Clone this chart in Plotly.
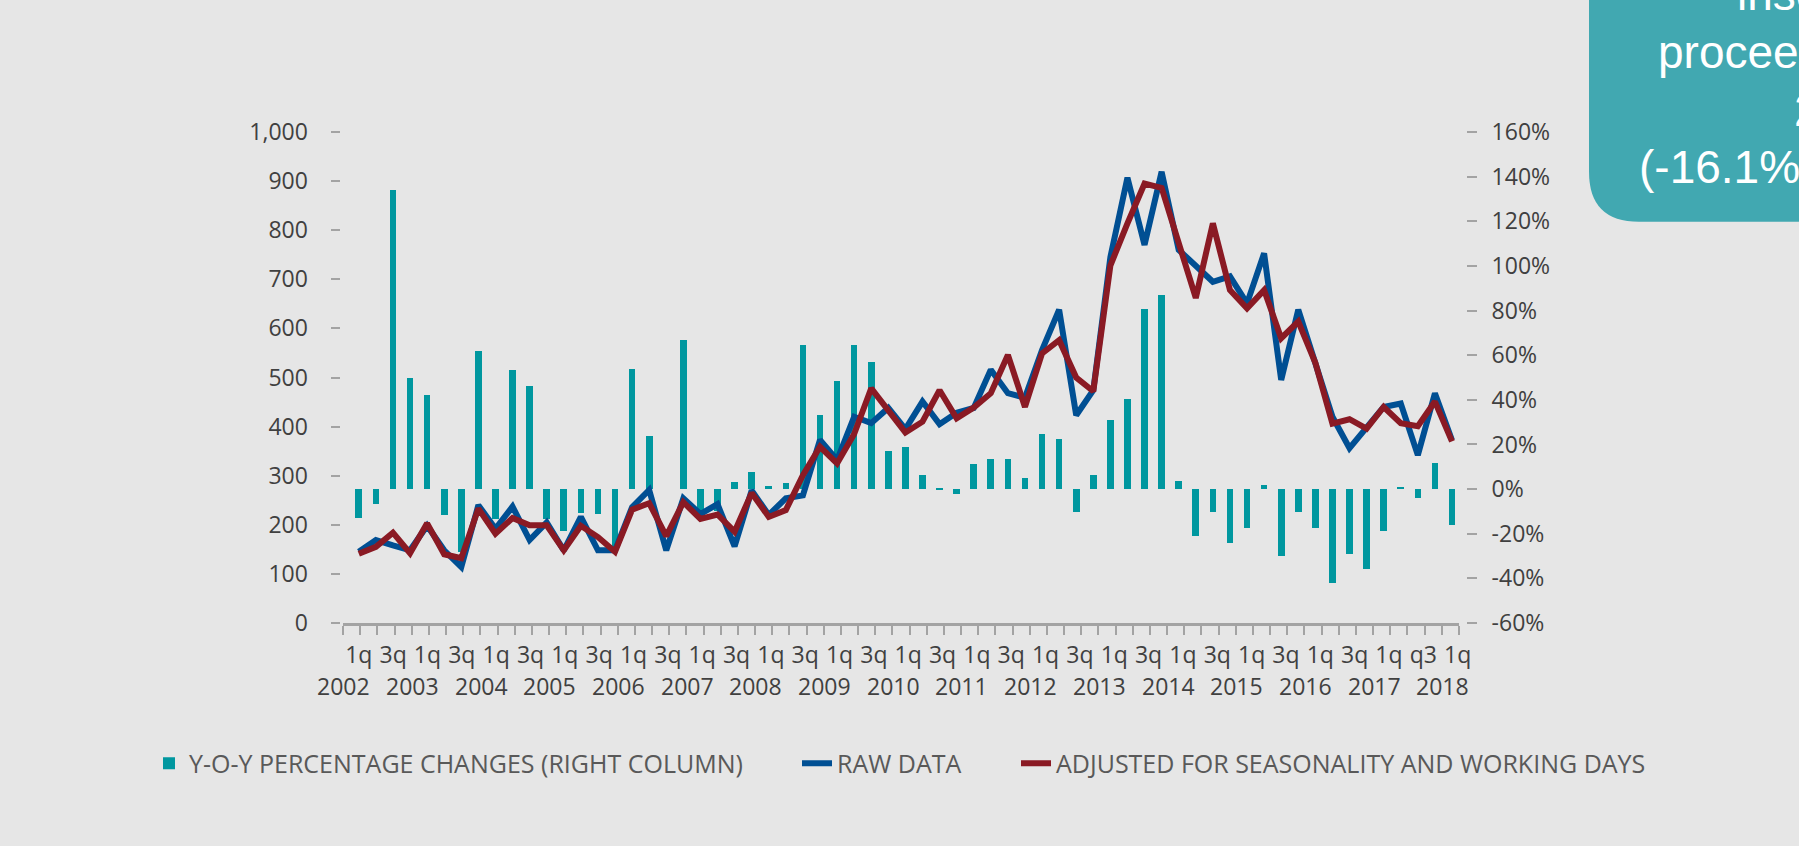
import plotly.graph_objects as go

# ---------------- data ----------------
raw_data = [145, 169, 158, 148, 198, 148, 114, 240, 192, 237,
            169, 205, 148, 216, 148, 148, 236, 271, 148, 254,
            222, 242, 156, 270, 220, 254, 260, 373, 332, 420,
            407, 438, 395, 451, 405, 428, 438, 516, 468, 459,
            556, 638, 423, 474, 745, 907, 770, 919, 760, 726,
            695, 706, 651, 753, 495, 638, 529, 420, 356, 400,
            440, 447, 342, 468, 372]

adjusted = [141, 155, 184, 142, 203, 140, 132, 233, 182, 214,
            199, 199, 148, 198, 175, 145, 231, 244, 177, 246,
            212, 221, 186, 265, 216, 230, 301, 359, 325, 385,
            478, 434, 388, 410, 474, 417, 439, 468, 546, 440,
            549, 576, 500, 472, 728, 814, 895, 886, 770, 662,
            814, 678, 641, 678, 580, 614, 530, 406, 415, 396,
            440, 407, 401, 451, 370]

yoy_pct = [-13.0, -6.5, 134.0, 50.0, 42.0, -11.5, -28.0, 61.7, -13.2, 53.5,
           46.0, -13.2, -18.8, -10.5, -11.3, -26.0, 53.9, 23.7, 0.0, 67.0,
           -10.0, -10.0, 3.0, 7.5, 1.6, 2.8, 64.7, 33.0, 48.4, 64.7,
           57.0, 17.0, 18.8, 6.2, 0.4, -2.0, 11.1, 13.5, 13.5, 5.0,
           24.5, 22.5, -10.4, 6.2, 31.0, 40.5, 80.8, 87.0, 3.8, -21.2,
           -10.4, -24.1, -17.6, 1.8, -30.1, -10.4, -17.6, -42.0, -29.0, -36.0,
           -18.8, 1.0, -4.0, 11.8, -16.1]

quarter_labels = ["1q", "3q", "1q", "3q", "1q", "3q", "1q", "3q", "1q", "3q",
                  "1q", "3q", "1q", "3q", "1q", "3q", "1q", "3q", "1q", "3q",
                  "1q", "3q", "1q", "3q", "1q", "3q", "1q", "3q", "1q", "3q",
                  "1q", "q3", "1q"]
year_labels = ["2002", "2003", "2004", "2005", "2006", "2007", "2008", "2009",
               "2010", "2011", "2012", "2013", "2014", "2015", "2016", "2017",
               "2018"]

value_ticks = [0, 100, 200, 300, 400, 500, 600, 700, 800, 900, 1000]
value_ticktext = ["0", "100", "200", "300", "400", "500", "600", "700", "800", "900", "1,000"]
pct_ticks = [-60, -40, -20, 0, 20, 40, 60, 80, 100, 120, 140, 160]
pct_ticktext = ["-60%", "-40%", "-20%", "0%", "20%", "40%", "60%", "80%",
                "100%", "120%", "140%", "160%"]

series_names = ["Y-O-Y PERCENTAGE CHANGES (RIGHT COLUMN)", "RAW DATA",
                "ADJUSTED FOR SEASONALITY AND WORKING DAYS"]
box_lines = ["insolvency", "proceedings", "2018", "(-16.1% y-o-y)"]

# ---------------- style ----------------
W, H = 1799, 846
BG = "#e6e6e6"
TEAL = "#00979f"
BLUE = "#004f93"
RED = "#8a1a24"
GRAY = "#a3a3a3"
TXT = "#404040"
FONT = "Open Sans"

plot_l, plot_r, plot_t, plot_b = 343, 1459, 132.3, 622.7
plot_h = plot_b - plot_t

n = len(raw_data)
xs = list(range(n))
xmin, xmax = -0.925, 64.41
step = (xmax - xmin) / n
boundaries = [xmin + k * step for k in range(n + 1)]
label_pos = [j * step for j in range(0, n, 2)]
year_pos = [j * step for j in range(0, n, 4)]


def py(p):  # pixel y -> paper y
    return (plot_b - p) / plot_h


fig = go.Figure()
fig.add_trace(go.Bar(x=xs, y=yoy_pct, name=series_names[0], marker=dict(color=TEAL, line=dict(width=0)),
                     width=0.39, yaxis="y", xaxis="x", legend="legend"))
fig.add_trace(go.Scatter(x=xs, y=raw_data, name=series_names[1], mode="lines",
                         line=dict(color=BLUE, width=6), yaxis="y2", xaxis="x", legend="legend2"))
fig.add_trace(go.Scatter(x=xs, y=adjusted, name=series_names[2], mode="lines",
                         line=dict(color=RED, width=6), yaxis="y2", xaxis="x", legend="legend3"))

tickfont = dict(family=FONT, size=23, color=TXT)

annotations = []
for yp, yl in zip(year_pos, year_labels):
    annotations.append(dict(x=yp, y=py(686), xref="x", yref="paper", text=yl, showarrow=False,
                            xanchor="right", yanchor="middle", xshift=13.6, font=tickfont))

# truncated call-out box at the top right
box_starts = [1735, 1656, 1792, 1637]
box_baselines = [10, 68, 126, 183]
for t, sx, bl in zip(box_lines, box_starts, box_baselines):
    annotations.append(dict(x=sx / W, y=py(bl - 16), xref="paper", yref="paper", text=t,
                            showarrow=False, xanchor="left", yanchor="middle",
                            font=dict(family="Liberation Sans, Arial", size=46, color="white")))

bx0, bx1 = 1589 / W, 1830 / W
by0, by1 = py(222), py(-20)
rx, ry = 50 / W, 50 / plot_h
box_path = (f"M {bx0},{by1} L {bx1},{by1} L {bx1},{by0} L {bx0 + rx},{by0} "
            f"Q {bx0},{by0} {bx0},{by0 + ry} Z")

legfont = dict(family=FONT, size=25, color="#595959")


def leg(x_px):
    return dict(orientation="h", x=x_px / W, xanchor="left", y=py(763), yanchor="middle",
                font=legfont, bgcolor="rgba(0,0,0,0)", itemwidth=30)


fig.update_layout(
    width=W, height=H,
    template="none",
    paper_bgcolor=BG, plot_bgcolor=BG,
    margin=dict(l=0, r=0, t=plot_t, b=H - plot_b, pad=0),
    showlegend=True,
    bargap=0,
    xaxis=dict(domain=[plot_l / W, plot_r / W], range=[xmin, xmax], anchor="y",
               tickmode="array", tickvals=label_pos, ticktext=quarter_labels,
               ticks="", tickfont=tickfont, ticklabelstandoff=9,
               minor=dict(tickmode="array", tickvals=boundaries, ticks="outside",
                          ticklen=9, tickwidth=2, tickcolor=GRAY, showgrid=False),
               showline=True, linewidth=3, linecolor=GRAY, showgrid=False, zeroline=False,
               automargin=False),
    yaxis=dict(range=[-60, 160], side="right", anchor="free", position=1466 / W,
               tickmode="array", tickvals=pct_ticks, ticktext=pct_ticktext,
               ticks="outside", ticklen=10, tickwidth=2, tickcolor=GRAY,
               showline=False, showgrid=False, zeroline=False, tickfont=tickfont,
               ticklabelstandoff=10, automargin=False),
    yaxis2=dict(range=[0, 1000], side="left", overlaying="y", anchor="free", position=339.5 / W,
                tickmode="array", tickvals=value_ticks, ticktext=value_ticktext,
                ticks="outside", ticklen=9, tickwidth=2, tickcolor=GRAY,
                showline=False, showgrid=False, zeroline=False, tickfont=tickfont,
                ticklabelstandoff=18, automargin=False),
    legend=leg(149),
    legend2=leg(797),
    legend3=leg(1016),
    annotations=annotations,
    shapes=[dict(type="path", path=box_path, xref="paper", yref="paper",
                 fillcolor="#41a8b1", line=dict(width=0), layer="above")],
)

fig.write_html("out.html", config={"displayModeBar": False},
               post_script="document.body.style.margin='0';document.body.style.overflow='hidden';")
